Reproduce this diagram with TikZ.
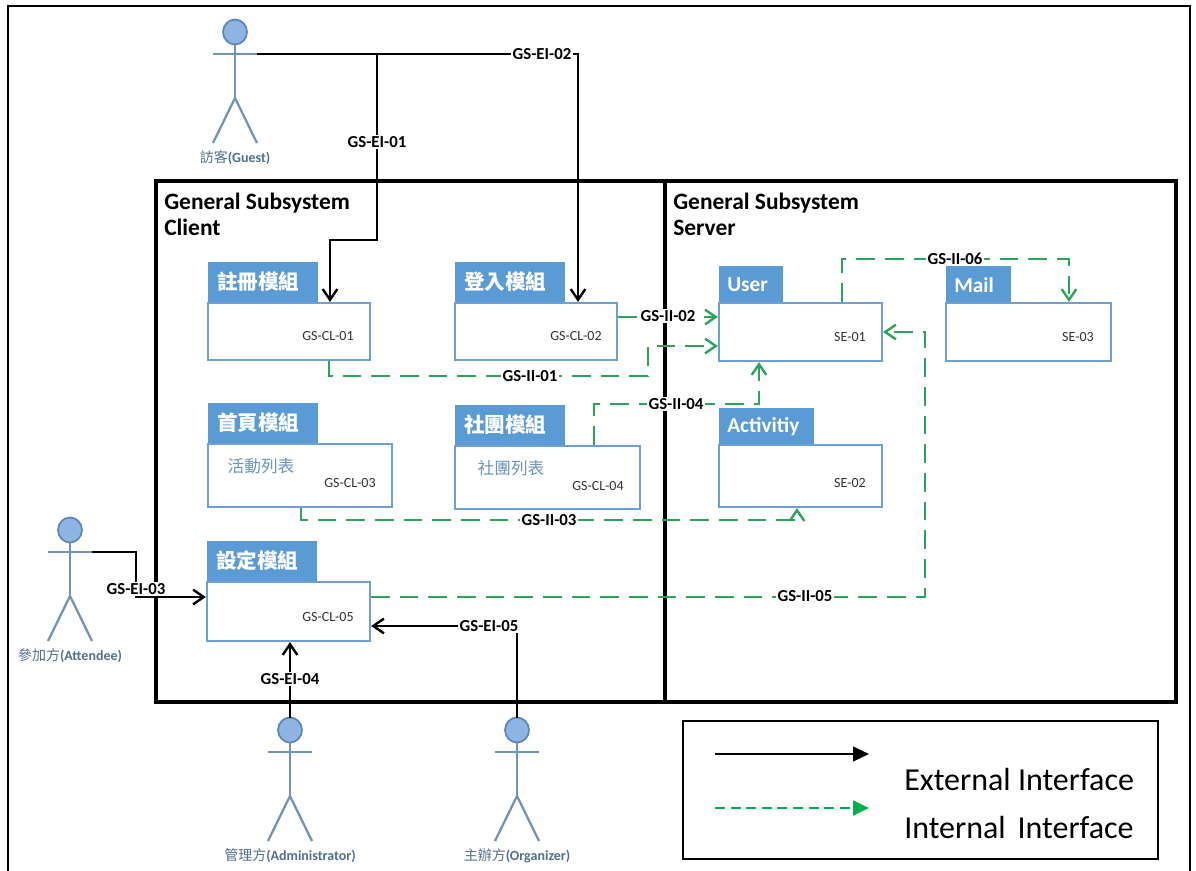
\documentclass[tikz,border=0pt]{standalone}
\usepackage{fontspec}
\setmainfont{Carlito}
\newfontfamily\cjk{Noto Sans CJK TC}
\usetikzlibrary{arrows.meta,fit}
\definecolor{tabblue}{HTML}{5B9BD5}
\definecolor{bodyblue}{HTML}{6FA0D2}
\definecolor{idtext}{HTML}{333333}
\definecolor{subblue}{HTML}{6D93BF}
\definecolor{actline}{HTML}{7393B5}
\definecolor{headfill}{HTML}{8DB4E2}
\definecolor{headdraw}{HTML}{5C86B6}
\definecolor{actlab}{HTML}{50708F}
\definecolor{igreen}{HTML}{2BA55A}
\definecolor{lgreen}{HTML}{00B050}
\newcommand\myactor[4]{%
  \draw[actorline] (#2-22,#3+22) -- (#2+22,#3+22);
  \draw[actorline] (#2,#3+11) -- (#2,#3+66);
  \draw[actorline] (#2-22,#3+111) -- (#2,#3+66) -- (#2+22,#3+111);
  \draw[headst] (#2,#3) ellipse [x radius=12, y radius=12.5];
  \node[actorlab] (#1) at (#2,#3+126) {#4};
  \coordinate (#1-r) at (#2+22,#3+22);
  \coordinate (#1-top) at (#2,#3-12.5);
}
\begin{document}
\begin{tikzpicture}[x=0.75pt,y=-0.75pt,
  actorline/.style={draw=actline,line width=1.7pt},
  headst/.style={draw=headdraw,fill=headfill,line width=1.3pt},
  actorlab/.style={text=actlab,font=\fontsize{10.5}{12}\selectfont,inner sep=1pt},
  pbody/.style={draw=bodyblue,fill=white,line width=1.7pt,inner sep=0pt},
  ptab/.style={fill=tabblue,draw=tabblue,line width=0.5pt,inner sep=0pt},
  tabtxt/.style={text=white,font=\cjk\bfseries\fontsize{15.4}{18}\selectfont,anchor=west,inner sep=0pt},
  tabtxtl/.style={text=white,font=\bfseries\fontsize{16}{18}\selectfont,anchor=west,inner sep=0pt},
  idtxt/.style={text=idtext,font=\fontsize{10.5}{12}\selectfont,inner sep=0pt},
  subtxt/.style={text=subblue,font=\cjk\fontsize{12.5}{14}\selectfont,inner sep=0pt},
  ttl/.style={font=\bfseries\fontsize{17.6}{20}\selectfont,anchor=base west,inner sep=0pt},
  ext/.style={draw=black,line width=1.8pt,-{Straight Barb[length=8pt,width=11pt]}},
  int/.style={draw=igreen,line width=1.8pt,dash pattern=on 14pt off 7.5pt,-{Straight Barb[length=8pt,width=11pt]}},
  lab/.style={fill=white,font=\bfseries\fontsize{12.6}{14}\selectfont,inner sep=1pt}]
\useasboundingbox (0,0) rectangle (1196,871);
% outer frame
\draw[line width=1.8pt] (8,880) -- (8,6) -- (1190,6) -- (1190,880);
% system box
\node[fit={(156,181)(1176,702)},draw,line width=2.8pt,inner sep=0pt] (sys) {};
\draw[line width=2.8pt] (665,0 |- sys.north) -- (665,0 |- sys.south);
\node[ttl] (tc1) at (164,209) {General Subsystem};
\node[ttl] (tc2) at (164,235) {Client};
\node[ttl] (ts1) at (673,209) {General Subsystem};
\node[ttl] (ts2) at (673,235) {Server};
% client modules
\node[ptab,fit={(208,262)(317,303)}] (r1t) {};
\node[pbody,fit={(208,303)(370,360)}] (r1) {};
\node[tabtxt] at (217,282) {註冊模組};
\node[idtxt] at (328,336) {GS-CL-01};
\node[ptab,fit={(455,262)(564,303)}] (r2t) {};
\node[pbody,fit={(455,303)(617,360)}] (r2) {};
\node[tabtxt] at (464,282) {登入模組};
\node[idtxt] at (576,336) {GS-CL-02};
\node[ptab,fit={(208,403)(317,444)}] (r3t) {};
\node[pbody,fit={(208,444)(392,507)}] (r3) {};
\node[tabtxt] at (217,423) {首頁模組};
\node[subtxt] at (261,466) {活動列表};
\node[idtxt] at (350,483) {GS-CL-03};
\node[ptab,fit={(455,405)(564,446)}] (r4t) {};
\node[pbody,fit={(455,446)(640,509)}] (r4) {};
\node[tabtxt] at (464,425) {社團模組};
\node[subtxt] at (511,468) {社團列表};
\node[idtxt] at (598,486) {GS-CL-04};
\node[ptab,fit={(207,541)(316,582)}] (r5t) {};
\node[pbody,fit={(207,582)(370,641)}] (r5) {};
\node[tabtxt] at (216,561) {設定模組};
\node[idtxt] at (328,617) {GS-CL-05};
% server modules
\node[ptab,fit={(719,266)(782,303)}] (ut) {};
\node[pbody,fit={(719,303)(882,361)}] (u) {};
\node[tabtxtl] at (727,285) {User};
\node[idtxt] at (850,337) {SE-01};
\node[ptab,fit={(946,266)(1010,303)}] (mt) {};
\node[pbody,fit={(946,303)(1111,361)}] (mail) {};
\node[tabtxtl] at (954,285) {Mail};
\node[idtxt] at (1078,337) {SE-03};
\node[ptab,fit={(719,408)(813,445)}] (at) {};
\node[pbody,fit={(719,445)(882,507)}] (act) {};
\node[tabtxtl] at (727,427) {Activitiy};
\node[idtxt] at (850,483) {SE-02};
% actors
\myactor{guest}{235}{32}{{\cjk 訪客}\textbf{(Guest)}}
\myactor{att}{70}{530}{{\cjk 參加方}\textbf{(Attendee)}}
\myactor{adm}{290}{730}{{\cjk 管理方}\textbf{(Administrator)}}
\myactor{org}{517}{730}{{\cjk 主辦方}\textbf{(Organizer)}}
% external interfaces
\coordinate (j1) at (377,54);
\draw[ext] (guest-r) -| (578,0 |- r2.north);
\draw[ext] (j1) |- (330,240) -- (330,0 |- r1.north);
\draw[ext] (att-r) -| (136,597) -- (r5.west |- 0,597);
\draw[ext] (adm-top) -- (290,0 |- r5.south);
\draw[ext] (org-top) |- (r5.east |- 0,626);
% internal interfaces
\draw[int] (r2.east |- 0,317) -- (u.west |- 0,317);
\draw[int] (329,0 |- r1.south) |- (648,376) |- (u.west |- 0,346);
\draw[int] (594,0 |- r4.north) |- (759,404) -- (759,0 |- u.south);
\draw[int] (301,0 |- r3.south) |- (797,520) -- (797,0 |- act.south);
\draw[int] (r5.east |- 0,597) -| (925,332) -- (u.east |- 0,332);
\draw[int] (842,0 |- u.north) |- (1069,259) -- (1069,0 |- mail.north);
% labels
\node[lab] at (377,142) {GS-EI-01};
\node[lab] at (542,54) {GS-EI-02};
\node[lab] at (136,589) {GS-EI-03};
\node[lab] at (290,679) {GS-EI-04};
\node[lab] at (489,626) {GS-EI-05};
\node[lab] at (530,376) {GS-II-01};
\node[lab] at (668,316) {GS-II-02};
\node[lab] at (549,520) {GS-II-03};
\node[lab] at (676,404) {GS-II-04};
\node[lab] at (805,596) {GS-II-05};
\node[lab] at (955,259) {GS-II-06};
% legend
\node[fit={(683,721)(1158,859)},draw,line width=1.3pt,inner sep=0pt] (leg) {};
\coordinate (la1) at (715,754);
\coordinate (la2) at (869,754);
\coordinate (lb1) at (715,808);
\coordinate (lb2) at (869,808);
\draw[line width=1.6pt,-{Triangle[length=12pt,width=11pt]}] (la1) -- (la2);
\draw[draw=lgreen,line width=2.1pt,dash pattern=on 7.5pt off 4.2pt,-{Triangle[length=12pt,width=11pt]}] (lb1) -- (lb2);
\node[anchor=west,inner sep=0pt,font=\fontsize{24}{28}\selectfont] at (904,779) {External Interface};
\node[anchor=west,inner sep=0pt,font=\fontsize{24}{28}\selectfont] at (904,827) {Internal\hspace{0.37em}Interface};
\end{tikzpicture}
\end{document}
